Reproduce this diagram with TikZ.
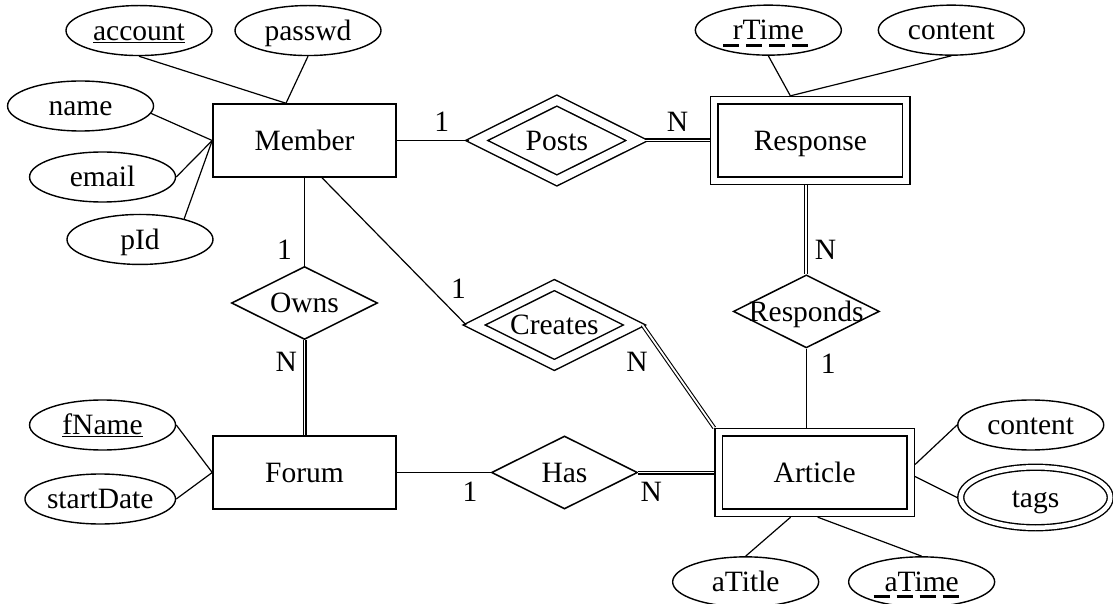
\documentclass[tikz,border=0pt]{standalone}
\usepackage{fontspec}
\setmainfont{Liberation Serif}
\usetikzlibrary{shapes.geometric,positioning}

\tikzset{
  entity/.style={draw, line width=1.5pt, minimum width=183pt, minimum height=73pt, inner sep=0pt},
  weak/.style={draw, line width=1.5pt, double, double distance=5.8pt, minimum width=192pt, minimum height=80.5pt, inner sep=0pt, outer sep=4.4pt},
  rel/.style={draw, diamond, aspect=2, line width=1.5pt, minimum width=146pt, minimum height=73pt, inner sep=0pt},
  idrel/.style={rel, double, double distance=8.3pt, minimum width=165pt, minimum height=84.5pt, outer sep=5.6pt},
  attr/.style={draw, ellipse, line width=1.4pt, minimum width=146pt, minimum height=50pt, inner sep=0pt},
  multi/.style={attr, double, double distance=4.5pt, minimum width=149.5pt, minimum height=60.5pt, outer sep=3.7pt},
  card/.style={inner sep=2pt},
  link/.style={line width=1.2pt},
  total/.style={line width=1.1pt, double, double distance=1.8pt},
  pkey/.style={line width=3pt, dash pattern=on 16pt off 7pt},
}

\begin{document}
\begin{tikzpicture}[font=\fontsize{29.5}{34}\selectfont,
    every node/.append style={text height=19.5pt, text depth=0pt}]
  \useasboundingbox (-304.5pt,140.5pt) rectangle (808.5pt,-463.5pt);

    % Define nodes
    \node[entity]                                    (member) {Member};
    \node[idrel, right=72pt of member]               (posts) {Posts};
    \node[weak, right=65pt of posts]                 (response) {Response};
    \node[rel, below=88pt of member]                 (owns) {Owns};
    \node[entity, below=95pt of owns]                (forum) {Forum};
    \node[rel, right=94pt of forum]                  (has) {Has};
    \node[weak, right=76pt of has]                   (article) {Article};
    \node[rel, below=89pt of response, xshift=-4pt, inner xsep=-12pt] (responds) {Responds};
    \node[idrel, right=88pt of owns, yshift=-22pt]   (creates) {Creates};

    \node[attr, above=47pt of member, xshift=-165.5pt] (account) {\underline{account}};
    \node[attr, above=47pt of member, xshift=3.5pt]    (passwd) {passwd};
    \node[attr, left=58pt of member, yshift=34.5pt]    (name) {name};
    \node[attr, left=36pt of member, yshift=-36.5pt]   (email) {email};
    \node[attr, below=36pt of member, xshift=-164.5pt] (pid) {pId};

    \node[attr, above=40pt of response, xshift=-42pt]  (rtime) {rTime};
    \node[attr, above=40pt of response, xshift=141pt]  (rcontent) {content};

    \node[attr, left=36pt of forum, yshift=47.5pt]     (fname) {\underline{fName}};
    \node[attr, left=36pt of forum, yshift=-26.5pt]    (startdate) {startDate};

    \node[attr, right=42pt of article, yshift=47.5pt]  (acontent) {content};
    \node[multi, right=42pt of article, yshift=-25pt]  (tags) {tags};
    \node[attr, below=39pt of article, xshift=-69pt]   (atitle) {aTitle};
    \node[attr, below=39pt of article, xshift=107pt]   (atime) {aTime};

    \coordinate (mtop) at ([xshift=-18.5pt]member.north);
    \coordinate (rtop) at ([xshift=-20pt]response.north);

    % Connect the nodes
    \draw[link] (account.south) -- (mtop);
    \draw[link] (passwd.south) -- (mtop);
    \draw[link] (name.-6) -- (member.west);
    \draw[link] (email.east) -- (member.west);
    \draw[link] (pid.25) -- (member.west);
    \draw[link] (rtime.south) -- (rtop);
    \draw[link] (rcontent.south) -- (rtop);
    \draw[link] (fname.east) -- (forum.west);
    \draw[link] (startdate.east) -- (forum.west);
    \draw[link] ([yshift=8pt]article.east) -- (acontent.west);
    \draw[link] ([yshift=-4pt]article.east) -- (tags.west);
    \draw[link] ([xshift=-24pt]article.south) -- (atitle.north);
    \draw[link] ([xshift=3pt]article.south) -- (atime.north);

    \draw[link] (member) -- node[card, pos=0.625, above=6pt] {1} (posts);
    \draw[total] (posts) -- node[card, pos=0.5, above=6pt] {N} (response);
    \draw[total] (response.south -| responds.north) -- node[card, pos=0.73, right=6pt] {N} (responds.north);
    \draw[link] (responds.south) -- node[card, pos=0.185, right=12pt] {1} (responds.south |- article.north);
    \draw[link] (member) -- node[card, pos=0.82, left=10pt] {1} (owns);
    \draw[total] (owns) -- node[card, pos=0.23, left=5pt] {N} (forum);
    \draw[link] ([xshift=17.5pt]member.south) -- node[card, pos=0.753, right=18pt] {1} (creates.west);
    \draw[total] (creates.east) -- node[card, pos=0.36, left=18pt] {N} (article.north west);
    \draw[link] (forum) -- node[card, pos=0.78, below=6.5pt] {1} (has);
    \draw[total] (has) -- node[card, pos=0.17, below=6.5pt] {N} (article);

    % Partial keys
    \draw[pkey] ([shift={(-45pt,-15pt)}]rtime.center) -- ([shift={(41pt,-15pt)}]rtime.center);
    \draw[pkey] ([shift={(-48pt,-15pt)}]atime.center) -- ([shift={(39pt,-15pt)}]atime.center);

\end{tikzpicture}
\end{document}
